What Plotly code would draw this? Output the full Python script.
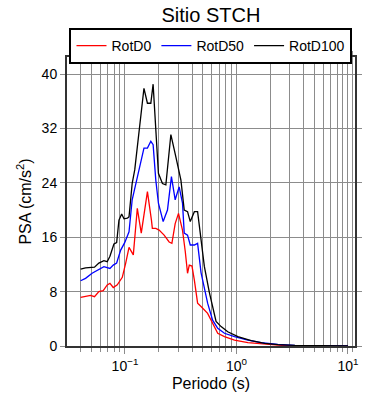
import plotly.graph_objects as go

# RotD100 (black)
per_d100 = [0.04, 0.0443, 0.0533, 0.0583, 0.0647, 0.0693, 0.0733, 0.0796, 0.0842, 0.0883,
            0.0934, 0.098, 0.105, 0.1087, 0.116, 0.1223, 0.148, 0.159, 0.1705, 0.1788,
            0.1995, 0.2168, 0.2326, 0.258, 0.286, 0.3175, 0.340, 0.364, 0.385, 0.419,
            0.448, 0.481, 0.515, 0.571, 0.634, 0.656, 0.728, 0.835, 1.03, 1.356, 1.79,
            2.35, 3.34, 5.0, 10.0]
psa_d100 = [11.3, 11.5, 11.6, 12.2, 12.55, 12.4, 13.2, 15.0, 15.2, 18.5,
            19.4, 18.7, 18.8, 19.0, 23.9, 25.9, 37.9, 35.7, 35.7, 38.5,
            25.4, 23.9, 23.7, 31.1, 27.8, 24.4, 20.0, 19.75, 18.3, 19.75,
            19.75, 15.8, 11.7, 7.9, 4.6, 3.6, 2.85, 2.1, 1.37, 0.78, 0.39,
            0.2, 0.1, 0.05, 0.02]

# RotD50 (blue)
per_d50 = [0.04, 0.0443, 0.0507, 0.0583, 0.0647, 0.0733, 0.0785, 0.0842, 0.0915, 0.0994,
           0.1087, 0.116, 0.129, 0.148, 0.159, 0.1705, 0.1788, 0.189, 0.1995, 0.22,
           0.2405, 0.261, 0.282, 0.306, 0.328, 0.340, 0.364, 0.385, 0.419, 0.448,
           0.481, 0.533, 0.551, 0.611, 0.679, 0.78, 0.96, 1.265, 1.67, 2.35, 3.34,
           5.0, 10.0]
psa_d50 = [9.6, 9.95, 10.7, 11.3, 11.67, 11.4, 11.9, 12.2, 14.1, 15.2,
           16.8, 21.5, 24.9, 29.1, 29.1, 30.1, 29.6, 24.4, 21.0, 18.3,
           20.0, 24.9, 21.5, 23.4, 21.0, 16.6, 16.3, 14.85, 14.85, 15.1,
           10.8, 7.2, 6.3, 3.8, 2.6, 1.87, 1.37, 0.88, 0.49, 0.25, 0.1,
           0.04, 0.01]

# RotD0 (red)
per_d0 = [0.04, 0.0443, 0.0491, 0.0533, 0.0583, 0.0638, 0.0693, 0.0733, 0.0785, 0.0853,
          0.0946, 0.1015, 0.1087, 0.1188, 0.129, 0.140, 0.159, 0.1727, 0.176, 0.189,
          0.2024, 0.2244, 0.249, 0.2635, 0.282, 0.302, 0.328, 0.3473, 0.364, 0.3773,
          0.399, 0.419, 0.448, 0.481, 0.533, 0.551, 0.60, 0.679, 0.78, 0.96, 1.265,
          1.79, 2.53, 5.0, 10.0]
psa_d0 = [7.16, 7.35, 7.45, 7.25, 8.0, 8.13, 8.97, 9.2, 8.6, 9.0,
          10.1, 12.2, 14.5, 13.4, 20.25, 16.6, 22.7, 18.5, 17.3, 17.3,
          17.05, 16.3, 15.3, 15.1, 18.0, 19.5, 17.05, 13.9, 10.7, 11.9,
          11.76, 9.7, 6.3, 5.8, 5.05, 4.8, 3.6, 1.87, 1.37, 0.88, 0.49,
          0.25, 0.1, 0.03, 0.01]

x_major = [0.1, 1, 10]
x_major_text = ["10<sup>\u22121</sup>", "10<sup>0</sup>", "10<sup>1</sup>"]
x_minor = [m * 10 ** e for e in (-2, -1, 0) for m in range(2, 10)] + [11]
y_ticks = [0, 8, 16, 24, 32, 40]

font = "Liberation Sans, Arial, sans-serif"
grid = "#8c8c8c"

fig = go.Figure()
fig.add_trace(go.Scatter(x=per_d0, y=psa_d0, mode="lines", name="RotD0",
                         line=dict(color="#ff0000", width=1.3)))
fig.add_trace(go.Scatter(x=per_d50, y=psa_d50, mode="lines", name="RotD50",
                         line=dict(color="#0000ff", width=1.3)))
fig.add_trace(go.Scatter(x=per_d100, y=psa_d100, mode="lines", name="RotD100",
                         line=dict(color="#000000", width=1.3)))

fig.update_layout(
    width=390, height=400,
    margin=dict(l=67, r=35, t=57, b=54, autoexpand=False),
    paper_bgcolor="white", plot_bgcolor="white",
    font=dict(family=font, size=14, color="black"),
    title=dict(text="Sitio STCH", x=0.541, xref="container", xanchor="center",
               y=0.963, yref="container", yanchor="middle",
               font=dict(size=20, family=font, color="black")),
    showlegend=True,
    legend=dict(orientation="h", xref="container", yref="container",
                x=0.541, xanchor="center", y=0.93, yanchor="top",
                bordercolor="black", borderwidth=2, bgcolor="white",
                font=dict(size=14, family=font),
                itemwidth=30, tracegroupgap=0),
    xaxis=dict(type="log", range=[-1.52, 1.063], automargin=False,
               tickmode="array", tickvals=x_major, ticktext=x_major_text,
               ticks="outside", ticklen=6, tickcolor=grid, tickwidth=1,
               showgrid=True, gridcolor=grid, gridwidth=0.8,
               showline=True, linecolor="#333", linewidth=2, mirror="allticks",
               minor=dict(tickmode="array", tickvals=x_minor, ticks="outside",
                          ticklen=4, tickcolor=grid, showgrid=True,
                          gridcolor=grid, gridwidth=0.8),
               title=dict(text="Periodo (s)", font=dict(size=16), standoff=5),
               tickfont=dict(size=14), zeroline=False),
    yaxis=dict(range=[0, 42.5], tickmode="array", tickvals=y_ticks, automargin=False,
               ticks="outside", ticklen=5, tickcolor=grid,
               showgrid=True, gridcolor=grid, gridwidth=0.8,
               showline=True, linecolor="#333", linewidth=2, mirror="allticks",
               title=dict(text="PSA (cm/s<sup>2</sup>)", font=dict(size=16), standoff=6),
               tickfont=dict(size=14), zeroline=False),
)

fig.write_html("out.html", config={"displayModeBar": False},
               post_script="document.body.style.margin='0';document.body.style.padding='0';")
